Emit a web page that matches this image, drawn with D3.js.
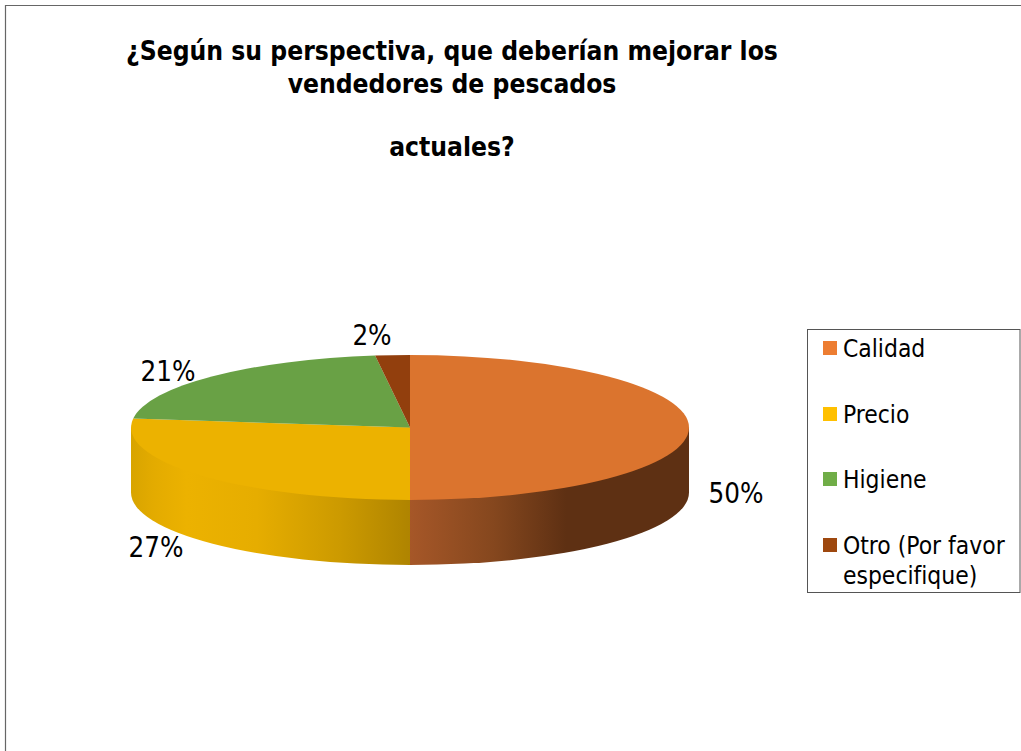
<!DOCTYPE html>
<html lang="es">
<head>
<meta charset="utf-8">
<script src="https://cdn.jsdelivr.net/npm/d3@7"></script>
<style>
html,body{margin:0;padding:0;background:#fff;overflow:hidden}
svg{display:block}
text{font-family:"DejaVu Sans Condensed","DejaVu Sans",sans-serif;fill:#000}
</style>
</head>
<body>
<script>
const categories = ["Calidad", "Precio", "Higiene", "Otro (Por favor especifique)"];
const values = [50, 27, 21, 2];
const titleLines = ["¿Según su perspectiva, que deberían mejorar los", "vendedores de pescados", "actuales?"];
const legendLines = [["Calidad"], ["Precio"], ["Higiene"], ["Otro (Por favor", "especifique)"]];
const topColors = ["#DB742E", "#ECB200", "#69A145", "#923F0D"];
const legendColors = ["#ED7D31", "#FFC000", "#70AD47", "#9E480E"];

const W = 1021, H = 751;
const svg = d3.select("body").append("svg").attr("width", W).attr("height", H);
const defs = svg.append("defs");

// frame
svg.append("path").attr("d", `M5.5,${H}V5.5H${W}`).attr("fill", "none").attr("stroke", "#666").attr("stroke-width", 1.2);

// title
const titleBase = [60, 93, 156];
svg.append("g").selectAll("text").data(titleLines).join("text")
  .attr("x", 452).attr("y", (d, i) => titleBase[i])
  .attr("text-anchor", "middle").attr("font-weight", "bold").attr("font-size", 26.2)
  .text(d => d);

// pie geometry
const cx = 410, cy = 427.5, rx = 279, ry = 72.5, depth = 65;
const sx = d3.scaleLinear().domain([-1, 1]).range([cx - rx, cx + rx]);
const sy = d3.scaleLinear().domain([-1, 1]).range([cy - ry, cy + ry]);
const pie = d3.pie().sort(null).value(d => d);
const arcs = pie(values);
const px = a => sx(Math.sin(a));
const py = a => sy(-Math.cos(a));

// side gradients (horizontal, in page coordinates)
function gradient(id, x1, x2, stops) {
  const g = defs.append("linearGradient").attr("id", id)
    .attr("gradientUnits", "userSpaceOnUse").attr("x1", x1).attr("x2", x2).attr("y1", 0).attr("y2", 0);
  stops.forEach(([o, c]) => g.append("stop").attr("offset", o).attr("stop-color", c));
}
gradient("side0", 410, 689, [[0, "#A65728"], [0.3, "#85471E"], [0.56, "#5E3013"], [1, "#5E3013"]]);
gradient("side1", 131, 410, [[0, "#D8A400"], [0.08, "#E3AB00"], [0.2, "#ECB200"], [0.45, "#E6AD00"], [0.75, "#CC9A00"], [1, "#AF8400"]]);

// visible outer wall of each slice, tucked under the top face to avoid a seam
const frontA = Math.PI / 2, frontB = 3 * Math.PI / 2;
const sides = svg.append("g");
arcs.forEach((d, i) => {
  const a0 = Math.max(d.startAngle, frontA), a1 = Math.min(d.endAngle, frontB);
  if (a1 <= a0) return;
  sides.append("path")
    .attr("d", `M${px(a0)},${py(a0)}V${py(a0) + depth}A${rx},${ry} 0 0 1 ${px(a1)},${py(a1) + depth}V${py(a1)}L${cx},${cy}Z`)
    .attr("fill", `url(#side${i})`);
});

// top face
const arc = d3.arc().innerRadius(0).outerRadius(1);
svg.append("g").attr("transform", `translate(${cx},${cy}) scale(${rx},${ry})`)
  .selectAll("path").data(arcs).join("path")
  .attr("d", arc).attr("fill", (d, i) => topColors[i]);

// data labels
const labelPos = [[736, 503], [156, 557], [168, 381], [372, 345]];
svg.append("g").selectAll("text").data(values).join("text")
  .attr("x", (d, i) => labelPos[i][0]).attr("y", (d, i) => labelPos[i][1])
  .attr("text-anchor", "middle").attr("font-size", 27.5)
  .text(d => d + "%");

// legend
svg.append("rect").attr("x", 807.5).attr("y", 329.5).attr("width", 212.5).attr("height", 263)
  .attr("fill", "#fff").attr("stroke", "#555").attr("stroke-width", 1);
const swatchY = [341, 407, 472, 538];
const leg = svg.append("g").selectAll("g").data(categories).join("g")
  .attr("transform", (d, i) => `translate(823,${swatchY[i]})`);
leg.append("rect").attr("width", 14).attr("height", 14).attr("fill", (d, i) => legendColors[i]);
leg.each(function (d, i) {
  d3.select(this).selectAll("text").data(legendLines[i]).join("text")
    .attr("x", 20).attr("y", (t, j) => 16 + j * 30)
    .attr("font-size", 24.4).text(t => t);
});
</script>
</body>
</html>
